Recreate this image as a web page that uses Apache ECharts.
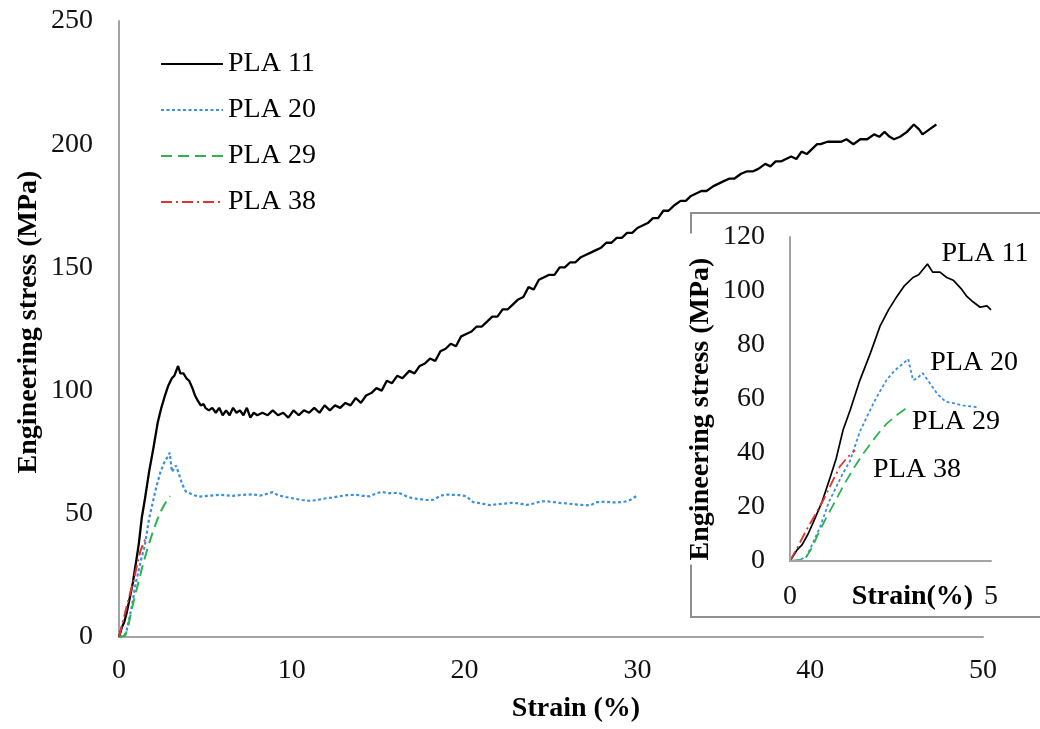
<!DOCTYPE html>
<html>
<head>
<meta charset="utf-8">
<script src="https://cdn.jsdelivr.net/npm/echarts@6/dist/echarts.min.js"></script>
<style>html,body{margin:0;padding:0;background:#fff}#c{width:1040px;height:729px}</style>
</head>
<body>
<div id="c"></div>
<script>
// ---- data (strain %, stress MPa) ----
var seriesNames = ['PLA 11', 'PLA 20', 'PLA 29', 'PLA 38'];
var pla11 = [[0,0],[0.04,0.5],[0.17,4],[0.3,6],[0.45,10],[0.57,14],[0.8,22],[1.0,31],[1.15,38],[1.32,48.5],[1.5,56],[1.74,67],[2.0,77],[2.24,87],[2.45,93],[2.66,98],[2.85,102],[3.06,105],[3.2,106],[3.42,110],[3.55,107],[3.73,107],[3.9,105],[4.06,104],[4.25,101],[4.4,98],[4.55,96],[4.73,94],[4.9,94.5],[5.0,93],[5.2,92],[5.4,93],[5.6,91],[5.8,93],[6.0,90],[6.2,92],[6.4,90],[6.6,93],[6.8,91],[7.0,92],[7.2,90],[7.4,93],[7.6,89],[7.8,91],[8.0,90],[8.3,91],[8.6,90],[8.9,92],[9.2,90],[9.5,91],[9.8,89],[10.1,92],[10.4,90],[10.7,92],[11.0,91],[11.3,93],[11.6,91],[11.9,94],[12.2,92],[12.5,94],[12.8,93],[13.1,95],[13.4,94],[13.7,97],[14.0,95],[14.3,98],[14.6,99],[14.9,101],[15.2,100],[15.5,104],[15.8,103],[16.1,106],[16.4,105],[16.8,108],[17.1,107],[17.4,110],[17.7,111],[18.0,113],[18.3,112],[18.6,116],[18.9,117],[19.2,119],[19.5,118],[19.8,122],[20.1,123],[20.4,124],[20.7,126],[21.0,126],[21.3,128],[21.6,130],[21.9,130],[22.2,133],[22.5,133],[22.8,135],[23.1,137],[23.4,138],[23.7,142],[24.0,141],[24.3,145],[24.6,146],[24.9,147],[25.2,147],[25.5,150],[25.8,150],[26.1,152],[26.4,152],[26.7,154],[27.0,155],[27.3,156],[27.6,157],[27.9,158],[28.2,160],[28.5,160],[28.8,162],[29.1,162],[29.4,164],[29.7,164],[30.0,166],[30.3,167],[30.6,168],[30.9,170],[31.2,170],[31.5,173],[31.8,173],[32.1,175],[32.5,177],[32.8,177],[33.1,179],[33.4,180],[33.7,181],[34.0,181],[34.4,183],[34.7,184],[35.0,185],[35.3,186],[35.6,186],[36.0,188],[36.35,189],[36.7,189],[37.0,190],[37.4,192],[37.7,191],[38.0,193],[38.3,193],[38.6,194],[38.9,195],[39.2,194],[39.5,197],[39.8,196],[40.1,198],[40.4,200],[40.6,200],[41.0,201],[41.4,201],[41.8,201],[42.1,202],[42.5,200],[42.9,202],[43.3,202],[43.7,204],[44.0,203],[44.3,205],[44.6,203],[44.85,202],[45.2,203],[45.6,205],[46.0,208],[46.3,206],[46.5,204],[46.9,206],[47.3,208]];
var pla20 = [[0,0],[0.1,0],[0.25,0.5],[0.41,1.6],[0.58,7],[0.75,12.6],[0.97,22],[1.07,25],[1.3,32],[1.49,37],[1.74,48],[1.9,53],[2.13,60],[2.4,67],[2.6,70.5],[2.8,73],[2.94,74.8],[3.06,67],[3.15,67.5],[3.3,69.6],[3.45,66.5],[3.66,62],[3.87,59],[4.06,58.5],[4.3,57.6],[4.64,57],[5.2,57.3],[5.8,57.7],[6.2,57.5],[6.57,57.3],[7.15,57.7],[7.73,57.9],[8.2,57.4],[8.6,58.2],[8.89,58.8],[9.2,57.5],[9.67,56.8],[10.1,56.2],[10.6,55.6],[11.0,55.3],[11.4,55.5],[11.9,56.2],[12.3,56.6],[12.76,57.1],[13.2,57.6],[13.73,57.7],[14.1,57.3],[14.5,57.1],[14.9,58.3],[15.2,58.9],[15.6,58.4],[16.2,58.5],[16.6,57.2],[17.0,56.3],[17.4,56.0],[17.8,55.6],[18.2,55.7],[18.6,57.3],[18.9,57.8],[19.3,57.7],[19.7,57.6],[20.1,57.1],[20.5,54.7],[20.9,54.3],[21.46,53.5],[21.9,53.9],[22.3,54.1],[22.8,54.5],[23.3,54.0],[23.6,53.6],[24.0,54.2],[24.4,55.0],[24.7,55.1],[25.1,54.8],[25.5,54.4],[25.9,54.2],[26.3,53.9],[26.8,53.6],[27.26,53.4],[27.65,54.7],[28.1,54.9],[28.6,54.6],[29.0,54.7],[29.3,55.0],[29.6,55.7],[29.97,57.3]];
var pla29 = [[0,0],[0.2,0.3],[0.37,0.6],[0.55,5],[0.7,10],[0.9,16],[1.12,22],[1.35,28.5],[1.6,34.7],[1.8,39.3],[2.0,43.4],[2.2,47.3],[2.4,50.8],[2.65,54],[2.95,57.2]];
var pla38 = [[0,0],[0.2,5.5],[0.41,11.5],[0.62,17],[0.83,22.6],[1.04,29],[1.24,35],[1.45,38.7],[1.62,41]];
// inset curve annotations: [strain, stress, text]
var insetNotes = [[4.85,114,'PLA 11'],[4.58,73.3,'PLA 20'],[4.13,51.5,'PLA 29'],[3.16,33.7,'PLA 38']];
var mainXTicks = {min:0, max:50, interval:10};
var mainYTicks = {min:0, max:250, interval:50};
var insetXTicks = {min:0, max:5, interval:5};
var insetYTicks = {min:0, max:120, interval:20};
var insetXMax = 5;

// ---- styles ----
var FONT = '"Liberation Serif", "Times New Roman", serif';
var colors = ['#000000', '#3b8fdc', '#2db34f', '#e23232'];
var dashes = ['solid', [3,2.5], [11,6], [11,4,2,4]];
var widths = [2.3, 2.2, 2, 2];
var insetWidths = [1.7, 1.8, 1.8, 1.8];
var axisGray = '#a3a3a3';

function clipX(arr, max){ return arr.filter(function(p){ return p[0] <= max + 1e-9; }); }

var allData = [pla11, pla20, pla29, pla38];
var series = [];
allData.forEach(function(d, i){
  series.push({
    name: seriesNames[i], type: 'line', xAxisIndex: 0, yAxisIndex: 0,
    data: d, symbol: 'none', smooth: false,
    lineStyle: {color: colors[i], width: widths[i], type: dashes[i]},
    itemStyle: {color: colors[i]}, z: 3
  });
});
allData.forEach(function(d, i){
  series.push({
    name: seriesNames[i], type: 'line', xAxisIndex: 1, yAxisIndex: 1,
    data: clipX(d, insetXMax), symbol: 'none',
    lineStyle: {color: colors[i], width: insetWidths[i], type: dashes[i]},
    itemStyle: {color: colors[i]}, z: 4
  });
});
series.push({
  name: 'notes', type: 'scatter', xAxisIndex: 1, yAxisIndex: 1,
  data: insetNotes, symbolSize: 0, itemStyle: {color: '#000000', opacity: 1}, clip: false, z: 6,
  label: {show: true, position: [0, 0], align: 'center', verticalAlign: 'middle',
    formatter: function(p){ return p.value[2]; },
    color: '#000000', opacity: 1, textBorderWidth: 0, fontFamily: FONT, fontSize: 28}
});

var labelStyle = {color: '#111', fontFamily: FONT, fontSize: 28};
var nameStyle = {color: '#000', fontFamily: FONT, fontSize: 28, fontWeight: 'bold'};

var option = {
  backgroundColor: '#ffffff',
  animation: false,
  legend: {
    data: seriesNames, orient: 'vertical', left: 160, top: 50, padding: 0,
    itemWidth: 62, itemHeight: 14, itemGap: 18,
    itemStyle: {opacity: 0},
    textStyle: {color: '#000', fontFamily: FONT, fontSize: 28, lineHeight: 28}
  },
  graphic: [{
    type: 'rect', z: 0, silent: true,
    shape: {x: 691, y: 213, width: 370, height: 404},
    style: {fill: '#ffffff', stroke: '#8f8f8f', lineWidth: 2}
  }],
  grid: [
    {left: 119, right: 57, top: 21, bottom: 92},
    {left: 790, right: 49, top: 237, bottom: 168, z: 3}
  ],
  xAxis: [
    {type: 'value', gridIndex: 0, min: mainXTicks.min, max: mainXTicks.max, interval: mainXTicks.interval,
     axisLine: {show: true, onZero: false, lineStyle: {color: axisGray, width: 2}},
     axisTick: {show: false}, splitLine: {show: false},
     axisLabel: Object.assign({margin: 20}, labelStyle),
     name: 'Strain (%)', nameLocation: 'middle', nameGap: 58, nameMoveOverlap: false,
     nameTextStyle: Object.assign({padding: [0,0,0,50]}, nameStyle)},
    {type: 'value', gridIndex: 1, min: insetXTicks.min, max: insetXTicks.max, interval: insetXTicks.interval,
     axisLine: {show: true, onZero: false, lineStyle: {color: axisGray, width: 2}},
     axisTick: {show: false}, splitLine: {show: false}, z: 5,
     axisLabel: Object.assign({margin: 22}, labelStyle),
     name: 'Strain(%)', nameLocation: 'middle', nameGap: 22, nameMoveOverlap: false,
     nameTextStyle: Object.assign({padding: [0,0,0,44]}, nameStyle)}
  ],
  yAxis: [
    {type: 'value', gridIndex: 0, min: mainYTicks.min, max: mainYTicks.max, interval: mainYTicks.interval,
     axisLine: {show: true, onZero: false, lineStyle: {color: axisGray, width: 2}},
     axisTick: {show: false}, splitLine: {show: false},
     axisLabel: Object.assign({margin: 26}, labelStyle),
     name: 'Engineering stress (MPa)', nameLocation: 'middle', nameGap: 76, nameMoveOverlap: false,
     nameTextStyle: Object.assign({padding: [0,0,0,14]}, nameStyle)},
    {type: 'value', gridIndex: 1, min: insetYTicks.min, max: insetYTicks.max, interval: insetYTicks.interval,
     axisLine: {show: true, onZero: false, lineStyle: {color: axisGray, width: 2}},
     axisTick: {show: false}, splitLine: {show: false}, z: 5,
     axisLabel: Object.assign({margin: 25}, labelStyle),
     name: 'Engineering stress (MPa)', nameLocation: 'middle', nameGap: 72, nameMoveOverlap: false,
     nameTextStyle: Object.assign({padding: [0,24,0,4], backgroundColor: '#ffffff', lineHeight: 34}, nameStyle)}
  ],
  series: series
};

var chart = echarts.init(document.getElementById('c'), null, {renderer: 'canvas'});
chart.setOption(option);
</script>
</body>
</html>
